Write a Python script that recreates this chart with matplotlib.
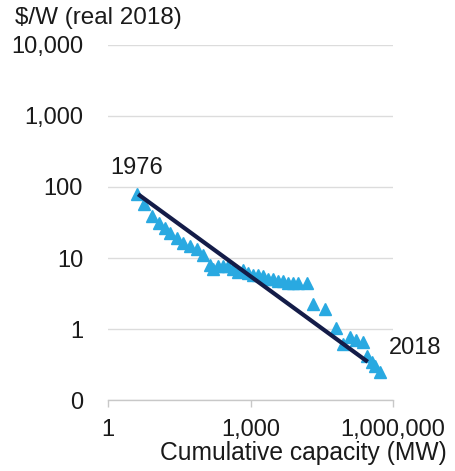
import matplotlib.pyplot as plt
from matplotlib.ticker import FixedLocator, FuncFormatter

plt.rcParams['font.family'] = ['Liberation Sans', 'DejaVu Sans']

# PV module price vs cumulative installed capacity, 1976-2018
capacity_mw = [4.1, 5.6, 8.4, 11.6, 16, 20.4, 28.2, 38.7, 53.6, 74, 102, 141,
               164, 208, 264, 337, 429, 546, 695, 885, 1127, 1436, 1828, 2329,
               2970, 3784, 4820, 6140, 7820, 9960, 15400, 20600, 36700, 62500,
               87700, 123000, 164000, 231000, 280000, 357000, 418000, 525000]
price_usd_w = [79, 57, 38.9, 31.4, 26.7, 22.7, 19.3, 16.4, 14.7, 13.2, 11.2, 8.1,
               6.9, 7.6, 7.8, 7.6, 7.1, 6.4, 6.7, 6.2, 5.8, 5.7, 5.5, 5.1,
               5.0, 4.7, 4.8, 4.5, 4.5, 4.4, 4.5, 2.28, 1.94, 1.04,
               0.62, 0.78, 0.71, 0.66, 0.42, 0.345, 0.30, 0.25]

# learning-curve fit endpoints
fit_capacity = [4.3, 294000]
fit_price = [79, 0.345]

y_ticks = [0.1, 1, 10, 100, 1000, 10000]
y_labels = ['0', '1', '10', '100', '1,000', '10,000']
x_ticks = [1, 1000, 1000000]
x_labels = ['1', '1,000', '1,000,000']

text_color = '#1a1a1a'
point_color = '#29a9e1'
line_color = '#141c48'
fs = 17

fig = plt.figure(figsize=(4.55, 4.71), dpi=100)
ax = fig.add_axes([0.2374, 0.1507, 0.6263, 0.7538])

ax.plot(capacity_mw, price_usd_w, linestyle='none', marker='^', markersize=8,
        color=point_color, zorder=3)
ax.plot(fit_capacity, fit_price, color=line_color, linewidth=3,
        solid_capstyle='butt', zorder=4)

ax.set_xscale('log')
ax.set_yscale('log')
ax.set_xlim(1, 1000000)
ax.set_ylim(0.1, 10000)

ax.yaxis.set_major_locator(FixedLocator(y_ticks))
ax.yaxis.set_major_formatter(FuncFormatter(lambda v, p: y_labels[y_ticks.index(v)] if v in y_ticks else ''))
ax.yaxis.set_minor_locator(FixedLocator([]))
ax.xaxis.set_major_locator(FixedLocator(x_ticks))
ax.xaxis.set_major_formatter(FuncFormatter(lambda v, p: x_labels[x_ticks.index(v)] if v in x_ticks else ''))
ax.xaxis.set_minor_locator(FixedLocator([]))

ax.grid(axis='y', color='#dcdcdc', linewidth=1)
ax.set_axisbelow(True)
for side in ['top', 'right', 'left']:
    ax.spines[side].set_visible(False)
ax.spines['bottom'].set_color('#c8c8c8')
ax.spines['bottom'].set_linewidth(1)

ax.tick_params(axis='y', length=0, pad=18, labelsize=fs, labelcolor=text_color)
ax.tick_params(axis='x', length=5, width=1, color='#c8c8c8', pad=9,
               labelsize=fs, labelcolor=text_color)

ax.text(4.0, 151, '1976', fontsize=fs, color=text_color, ha='center', va='baseline')
ax.text(2.93e6, 0.535, '2018', fontsize=fs, color=text_color, ha='center',
        va='center', clip_on=False)

fig.text(0.033, 0.985, '$/W (real 2018)', fontsize=17.5, color=text_color,
         ha='left', va='top')
fig.text(0.982, 0.012, 'Cumulative capacity (MW)', fontsize=17.7, color=text_color,
         ha='right', va='bottom')

fig.savefig('out.png', dpi=100)
